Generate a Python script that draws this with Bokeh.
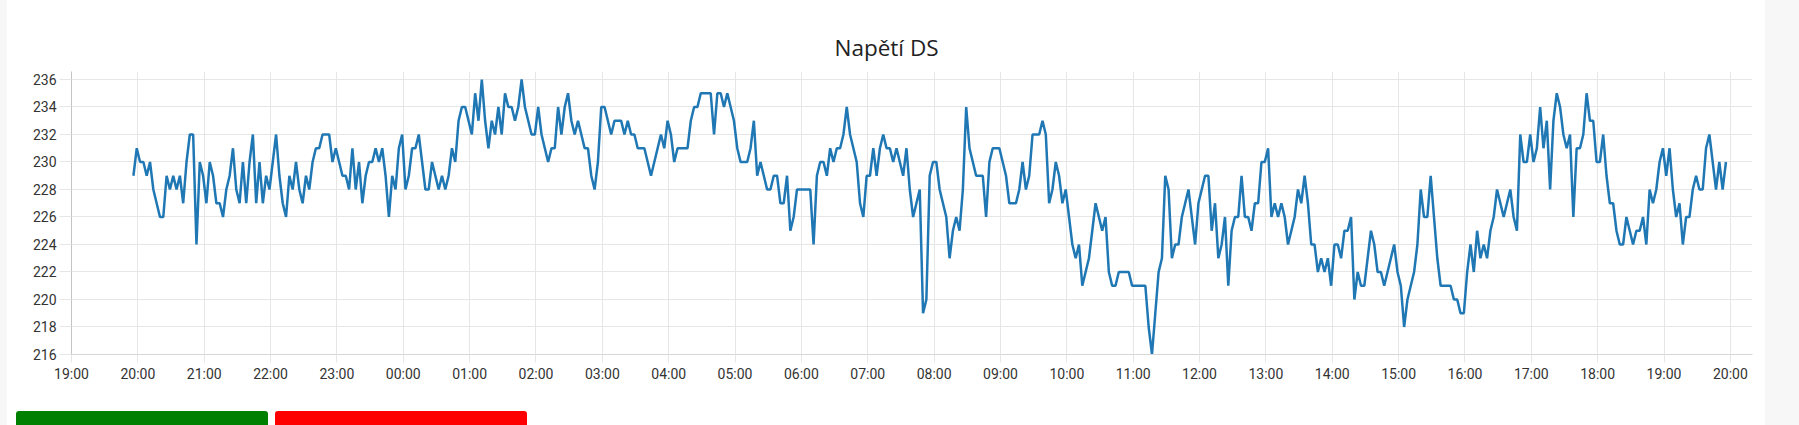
import pandas as pd
from bokeh.plotting import figure
from bokeh.models import Range1d, FixedTicker, Title, Div, ColumnDataSource, DatetimeTickFormatter
from bokeh.layouts import column, row
from bokeh.embed import file_html
from bokeh.resources import INLINE

title_text = "Napětí DS"
start_time = "2024-05-01 19:56"
step_minutes = 3
voltage = [
    229, 231, 230, 230, 229, 230, 228, 227, 226, 226,
    229, 228, 229, 228, 229, 227, 230, 232, 232, 224,
    230, 229, 227, 230, 229, 227, 227, 226, 228, 229,
    231, 228, 227, 230, 227, 230, 232, 227, 230, 227,
    229, 228, 230, 232, 229, 227, 226, 229, 228, 230,
    228, 227, 229, 228, 230, 231, 231, 232, 232, 232,
    230, 231, 230, 229, 229, 228, 231, 228, 230, 227,
    229, 230, 230, 231, 230, 231, 229, 226, 229, 228,
    231, 232, 228, 229, 231, 231, 232, 230, 228, 228,
    230, 229, 228, 229, 228, 229, 231, 230, 233, 234,
    234, 233, 232, 235, 233, 236, 233, 231, 233, 232,
    234, 232, 235, 234, 234, 233, 234, 236, 234, 233,
    232, 232, 234, 232, 231, 230, 231, 231, 234, 232,
    234, 235, 233, 232, 233, 232, 231, 231, 229, 228,
    230, 234, 234, 233, 232, 233, 233, 233, 232, 233,
    232, 232, 231, 231, 231, 230, 229, 230, 231, 232,
    231, 233, 232, 230, 231, 231, 231, 231, 233, 234,
    234, 235, 235, 235, 235, 232, 235, 235, 234, 235,
    234, 233, 231, 230, 230, 230, 231, 233, 229, 230,
    229, 228, 228, 229, 229, 227, 227, 229, 225, 226,
    228, 228, 228, 228, 228, 224, 229, 230, 230, 229,
    231, 230, 231, 231, 232, 234, 232, 231, 230, 227,
    226, 229, 229, 231, 229, 231, 232, 231, 231, 230,
    231, 230, 229, 231, 228, 226, 227, 228, 219, 220,
    229, 230, 230, 228, 227, 226, 223, 225, 226, 225,
    228, 234, 231, 230, 229, 229, 229, 226, 230, 231,
    231, 231, 230, 229, 227, 227, 227, 228, 230, 228,
    229, 232, 232, 232, 233, 232, 227, 228, 230, 229,
    227, 228, 226, 224, 223, 224, 221, 222, 223, 225,
    227, 226, 225, 226, 222, 221, 221, 222, 222, 222,
    222, 221, 221, 221, 221, 221, 218, 216, 219, 222,
    223, 229, 228, 223, 224, 224, 226, 227, 228, 226,
    224, 227, 228, 229, 229, 225, 227, 223, 224, 226,
    221, 225, 226, 226, 229, 226, 226, 225, 227, 227,
    230, 230, 231, 226, 227, 226, 227, 226, 224, 225,
    226, 228, 227, 229, 227, 224, 224, 222, 223, 222,
    223, 221, 224, 224, 223, 225, 225, 226, 220, 222,
    221, 221, 223, 225, 224, 222, 222, 221, 222, 223,
    224, 222, 221, 218, 220, 221, 222, 224, 228, 226,
    226, 229, 226, 223, 221, 221, 221, 221, 220, 220,
    219, 219, 222, 224, 222, 225, 223, 224, 223, 225,
    226, 228, 227, 226, 227, 228, 226, 225, 232, 230,
    230, 232, 230, 231, 234, 231, 233, 228, 233, 235,
    234, 232, 231, 232, 226, 231, 231, 232, 235, 233,
    233, 230, 230, 232, 229, 227, 227, 225, 224, 224,
    226, 225, 224, 225, 225, 226, 224, 228, 227, 228,
    230, 231, 229, 231, 228, 226, 227, 224, 226, 226,
    228, 229, 228, 228, 231, 232, 230, 228, 230, 228,
    230,
]
y_ticks = [216, 218, 220, 222, 224, 226, 228, 230, 232, 234, 236]
hour_labels = ["19:00", "20:00", "21:00", "22:00", "23:00", "00:00", "01:00",
               "02:00", "03:00", "04:00", "05:00", "06:00", "07:00", "08:00",
               "09:00", "10:00", "11:00", "12:00", "13:00", "14:00", "15:00",
               "16:00", "17:00", "18:00", "19:00", "20:00"]
axis_start = "2024-05-01 19:00"
axis_end = "2024-05-02 20:20"
y_min, y_max = 216, 236.58

times = pd.date_range(start_time, periods=len(voltage), freq=f"{step_minutes}min")
src = ColumnDataSource(data=dict(t=times, v=voltage))

hour_times = pd.date_range(axis_start, periods=len(hour_labels), freq="h")
hour_ms = [float(x) for x in (hour_times.asi8 // 10**6)]

p = figure(width=1758, height=411, x_axis_type="datetime",
           output_backend="svg", toolbar_location=None,
           x_range=Range1d(pd.Timestamp(axis_start), pd.Timestamp(axis_end)),
           y_range=Range1d(y_min, y_max),
           min_border_left=64, min_border_right=13,
           min_border_top=71, min_border_bottom=57)
p.outline_line_color = None
p.background_fill_color = "white"
p.border_fill_color = "white"

p.add_layout(Title(text=title_text, align="left", offset=763, standoff=18,
                   text_font="Open Sans", text_font_size="22.5px",
                   text_font_style="normal", text_color="#222222"), "above")

p.line(x="t", y="v", source=src, line_color="#1f77b4", line_width=2.5)

grid_col = "#e6e6e6"
p.xgrid.grid_line_color = grid_col
p.ygrid.grid_line_color = grid_col

xa = p.xaxis[0]
xa.ticker = FixedTicker(ticks=hour_ms)
xa.formatter = DatetimeTickFormatter(hours="%H:%M", days="%H:%M", minutes="%H:%M")
xa.major_label_overrides = {t: lab for t, lab in zip(hour_ms, hour_labels)}
ya = p.yaxis[0]
ya.ticker = FixedTicker(ticks=y_ticks)

for ax, tick_len in ((xa, 8), (ya, 12)):
    ax.major_tick_out = tick_len
    ax.major_tick_in = 0
    ax.minor_tick_out = 0
    ax.minor_tick_in = 0
    ax.major_tick_line_color = grid_col
    ax.major_label_text_font = "Roboto"
    ax.major_label_text_font_size = "14px"
    ax.major_label_text_color = "#333333"
    ax.major_label_standoff = 3
xa.axis_line_color = "#d6d6d6"
ya.axis_line_color = "#c4c4c4"

green = Div(text="", width=252, height=14, margin=(0, 0, 0, 9),
            styles={"background-color": "#008000", "border-radius": "3px 3px 0 0"})
red = Div(text="", width=252, height=14, margin=(0, 0, 0, 7),
          styles={"background-color": "#ff0000", "border-radius": "3px 3px 0 0"})
left_strip = Div(text="", width=7, height=425, margin=0,
                 styles={"background-color": "#f7f7f7"})
right_strip = Div(text="", width=34, height=425, margin=0,
                  styles={"background-color": "#f7f7f7"})

layout = row(left_strip, column(p, row(green, red, spacing=0), spacing=0),
             right_strip, spacing=0)

open("out.html", "w").write(file_html(layout, INLINE))
